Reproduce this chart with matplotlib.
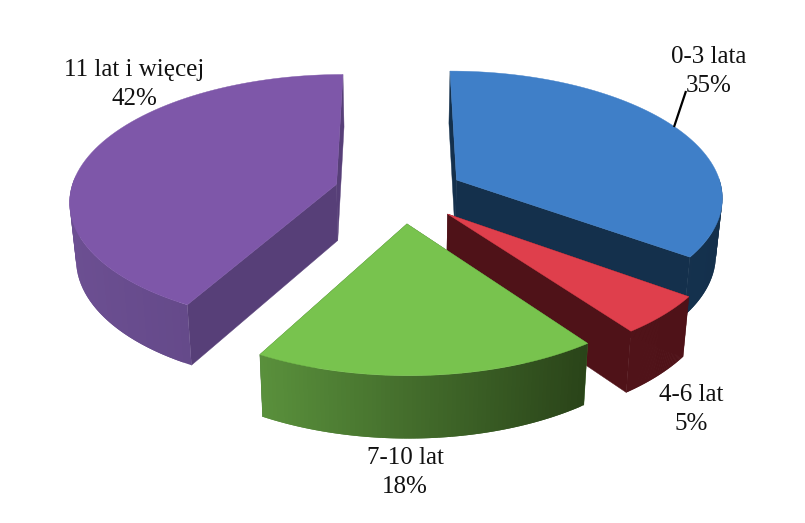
import numpy as np
import matplotlib
matplotlib.use('Agg')
import matplotlib.pyplot as plt
from matplotlib.colors import to_rgb

# data
categories = ['0-3 lata', '4-6 lat', '7-10 lat', '11 lat i więcej']
values = [35, 5, 18, 42]

# look of the slices
top_colors = ['#3F7FC8', '#DF3F4C', '#78C34E', '#7E57A9']
face_colors = ['#14304C', '#4F1218', '#3E6A2A', '#573F78']
outer_left = ['#193A5A', '#501319', '#5A913C', '#6C4F92']
outer_right = ['#14304C', '#4F1218', '#2A4419', '#5C4380']

# offset of each slice from the pie centre, in radii
offsets = [(0.23, 0.0), (0.19, 0.27), (0.04, 0.345), (-0.225, 0.035)]
label_xy = [(709, 57), (691, 395), (405, 458), (134, 70)]

# projection of the tilted pie, pixels
cx, cy = 396, 180
a, b = 263, 122
k = 0.12
depth = 56
shrink = 0.98


def project(X, Y, low=False):
    s = 1 / (1 - k * Y)
    x = a * X * s
    y = b * Y * s
    if low:
        return cx + x * shrink, cy + y * shrink + depth * s
    return cx + x, cy + y


def mix(c1, c2, t):
    c1, c2 = np.array(to_rgb(c1)), np.array(to_rgb(c2))
    return tuple(c1 + (c2 - c1) * t)


def draw_slice(ax, start, end, off, top, face, left, right):
    X0, Y0 = off
    th = np.radians(np.linspace(start, end, 80))
    X = X0 + np.sin(th)
    Y = Y0 - np.cos(th)
    xt, yt = project(X, Y)
    xb, yb = project(X, Y, low=True)
    ax0, ay0 = project(X0, Y0)
    ax1, ay1 = project(X0, Y0, low=True)

    # the two flat cut faces
    for i in (0, -1):
        ax.fill([ax0, xt[i], xb[i], ax1], [ay0, yt[i], yb[i], ay1],
                color=face, lw=0.3)

    # rounded outer wall, shaded along x
    # each strip runs under the next one so no seams show
    x_min, x_max = xt.min(), xt.max()
    n = len(th)
    for i in range(n - 1):
        # only the part that faces the viewer
        if np.cos(th[i]) > 0.02:
            continue
        j = min(i + 2, n - 1)
        t = (xt[i] - x_min) / max(x_max - x_min, 1)
        ax.fill(np.r_[xt[i:j + 1], xb[i:j + 1][::-1]],
                np.r_[yt[i:j + 1], yb[i:j + 1][::-1]],
                color=mix(left, right, t), lw=0)

    ax.fill(np.r_[ax0, xt], np.r_[ay0, yt], color=top, lw=0.3)


fig = plt.figure(figsize=(8.05, 5.23), dpi=100)
ax = fig.add_axes([0, 0, 1, 1])
ax.set_xlim(0, 805)
ax.set_ylim(523, 0)
ax.axis('off')

angles = np.r_[0, np.cumsum(values)] * 360 / np.sum(values)

# back to front, the green one sits over the red one
for i in [3, 0, 1, 2]:
    draw_slice(ax, angles[i], angles[i + 1], offsets[i], top_colors[i],
               face_colors[i], outer_left[i], outer_right[i])

# leader line of the first label
ax.plot([686, 674], [91, 127], color='black', lw=1.6, solid_capstyle='butt')

for cat, val, (lx, ly) in zip(categories, values, label_xy):
    ax.text(lx, ly, cat, ha='center', va='center', fontsize=18,
            family='Liberation Serif', color='#111111')
    ax.text(lx, ly + 29, f'{val}%', ha='center', va='center', fontsize=18,
            family='Liberation Serif', color='#111111')

fig.savefig('out.png', dpi=100, facecolor='white')
